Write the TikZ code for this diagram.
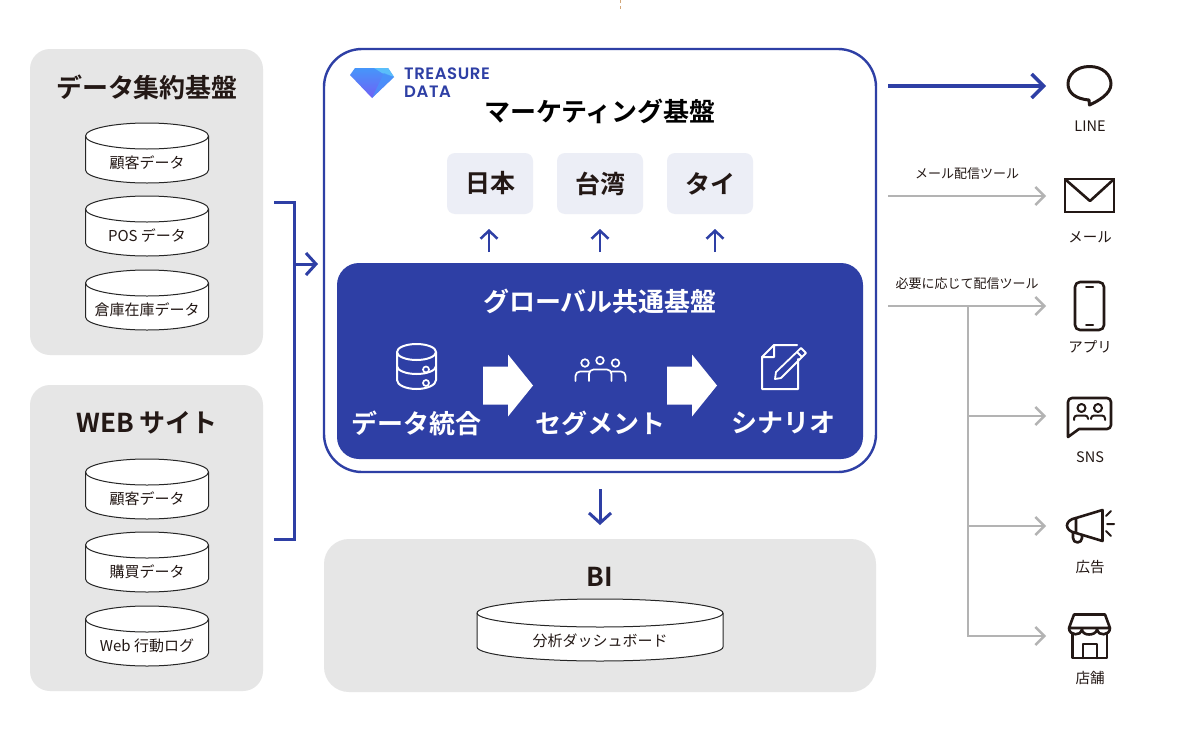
\documentclass[tikz,border=0pt]{standalone}
\usepackage{fontspec}
\setmainfont{Noto Sans CJK JP}[BoldFont={Noto Sans CJK JP Bold}]
\newfontfamily\logofont{Poppins SemiBold}[LetterSpace=3.5]
\usetikzlibrary{arrows.meta}
\definecolor{tdblue}{RGB}{46,63,165}
\definecolor{panelgray}{RGB}{230,230,230}
\definecolor{linegray}{RGB}{179,179,179}
\definecolor{countrybg}{RGB}{236,238,246}
\definecolor{inkblack}{RGB}{35,24,21}
\definecolor{gemtop}{RGB}{70,150,250}
\definecolor{gembot}{RGB}{112,96,245}
\definecolor{gemlight}{RGB}{90,190,250}
\tikzset{
	panel/.style={fill=panelgray,rounded corners=20pt,inner sep=0pt},
	title/.style={font=\fontsize{26}{26}\selectfont\bfseries,text=inkblack},
	maintitle/.style={font=\fontsize{26}{26}\selectfont\bfseries,text=black},
	whitetitle/.style={font=\fontsize{26}{26}\selectfont\bfseries,text=white},
	dbtext/.style={font=\fontsize{15}{15}\selectfont,text=inkblack},
	smalltext/.style={font=\fontsize{13}{13}\selectfont,text=inkblack},
	icontext/.style={font=\fontsize{14.5}{14.5}\selectfont,text=inkblack},
	logotext/.style={anchor=west,inner sep=0pt,text=tdblue,font=\logofont\fontsize{16.5}{16.5}\selectfont},
	countrybox/.style={fill=countrybg,rounded corners=8pt,minimum width=86pt,minimum height=61pt,inner sep=0pt,font=\fontsize{25}{25}\selectfont\bfseries,text=inkblack},
	bluearrow/.style={draw=tdblue,line width=3pt,-{Straight Barb[length=10pt,width=22pt,line width=3pt]}},
	uparrow/.style={draw=tdblue,line width=2.5pt,-{Straight Barb[length=8pt,width=17pt,line width=2.5pt]}},
	grayarrow/.style={draw=linegray,line width=2.2pt,-{Straight Barb[length=9pt,width=18pt,line width=2.4pt]}},
	dbline/.style={draw=black!85,line width=1pt},
	icon/.style={draw=inkblack,line width=2.6pt,line join=round,line cap=round},
	whiteicon/.style={draw=white,line width=2pt,line join=round,line cap=round},
	bigarrow/.pic={\fill[white] (0,-19)--(25,-19)--(25,-31)--(50,0)--(25,31)--(25,19)--(0,19)--cycle;},
}
\begin{document}
\begin{tikzpicture}[x=1pt,y=-1pt]
	\useasboundingbox (0,0) rectangle (1200,747);
	\fill[white] (0,0) rectangle (1200,747);
	\draw[orange!50!gray!70,line width=.8pt,dash pattern=on 3pt off 3pt] (620,0)--(620,11);

	% left panels
	\node[panel,minimum width=233pt,minimum height=306pt] (source) at (146.5,202) {};
	\node[panel,minimum width=233pt,minimum height=306pt] (web) at (146.5,538) {};
	\node[title] (sourcetitle) at (147,87) {データ集約基盤};
	\node[title] (webtitle) at (147,422.5) {WEB サイト};
	\foreach \cy/\name/\txt in {
		136/a/顧客データ,209/b/POS データ,283/c/倉庫在庫データ,
		472/d/顧客データ,545/e/購買データ,619/f/Web 行動ログ}{
		\filldraw[fill=white,dbline] (85.5,\cy)--++(0,34)
			arc[start angle=180,end angle=0,x radius=61.5,y radius=13]--++(0,-34)
			arc[start angle=0,end angle=-180,x radius=61.5,y radius=13]--cycle;
		\draw[dbline] (85.5,\cy) arc[start angle=180,end angle=0,x radius=61.5,y radius=13];
		\node[dbtext] (db\name) at (147,\cy+26.5) {\txt};
	}

	% bracket
	\coordinate (bracketTop) at (274,202);
	\coordinate (bracketBot) at (274,539);
	\coordinate (bracketMid) at (294,264);
	\draw[tdblue,line width=3pt] (bracketTop)-|(294,539)--(bracketBot);

	% main box
	\node[draw=tdblue,line width=2.4pt,fill=white,rounded corners=38pt,minimum width=552pt,minimum height=423pt,inner sep=0pt] (main) at (600,260.5) {};
	\coordinate (mainIn) at (318,264);
	\draw[bluearrow] (bracketMid)--(mainIn);

	% logo
	\shade[top color=gemtop,bottom color=gembot] (355,68)--(388,68)--(394,77)--(372,98)--(350,75)--cycle;
	\fill[gemlight] (374,68)--(388,68)--(394,77)--(382,73)--cycle;
	\fill[gemtop,opacity=.7] (394,77)--(372,98)--(384,73)--cycle;
	\node[logotext] (logotop) at (404,73.5) {TREASURE};
	\node[logotext] (logobot) at (404,92) {DATA};
	\node[maintitle] (mainlabel) at (600,111) {マーケティング基盤};

	% countries
	\node[countrybox] (japan) at (490,183.5) {日本};
	\node[countrybox] (taiwan) at (600,183.5) {台湾};
	\node[countrybox] (thai) at (710,183.5) {タイ};

	% common base
	\node[fill=tdblue,rounded corners=22pt,minimum width=526pt,minimum height=196pt,inner sep=0pt] (base) at (600,361) {};
	\node[whitetitle] (basetitle) at (600,301) {グローバル共通基盤};
	\draw[uparrow] (489,252)--(489,229);
	\draw[uparrow] (600,252)--(600,229);
	\draw[uparrow] (715,252)--(715,229);
	\node[whitetitle] (merge) at (416,423) {データ統合};
	\node[whitetitle] (segment) at (600,423) {セグメント};
	\node[whitetitle] (scenario) at (783,423) {シナリオ};
	\pic at (483,385.5) {bigarrow};
	\pic at (667,385.5) {bigarrow};

	% database icon
	\draw[whiteicon] (397,352) arc[start angle=180,end angle=-180,x radius=19.5,y radius=8]
		(397,352)--(397,380) arc[start angle=180,end angle=0,x radius=19.5,y radius=9]--(436,352)
		(397,352) arc[start angle=180,end angle=0,x radius=19.5,y radius=8]
		(397,366) arc[start angle=180,end angle=0,x radius=19.5,y radius=8];
	\draw[whiteicon,line width=1.7pt] (426,369.5) circle[radius=3] (426,383) circle[radius=3];
	% people icon
	\draw[whiteicon,line width=1.7pt] (585,363) circle[radius=3.8] (600,360.5) circle[radius=3.8] (615.5,363) circle[radius=3.8];
	\draw[whiteicon,line width=1.7pt] (575.5,381)--(575.5,376) arc[start angle=180,end angle=270,radius=4.5]--(589,371.5)
		(589,381)--(589,374) arc[start angle=180,end angle=270,radius=4.5]--(607,369.5) arc[start angle=270,end angle=360,radius=4.5]--(611.5,381)
		(612,371.5)--(621,371.5) arc[start angle=270,end angle=360,radius=4.5]--(625.5,381);
	% document icon
	\draw[whiteicon] (798,359)--(798,389)--(762,389)--(762,357)--(774,345)--(797,345)
		(762,357)--(774,357)--(774,345);
	\draw[whiteicon,line width=1.8pt] (776,372)--(801,348)--(806,353)--(781,378)--(775,379)--cycle (797,352)--(802,357);

	% bi
	\node[panel,rounded corners=25pt,minimum width=552pt,minimum height=153pt] (bi) at (600,615.5) {};
	\node[title] (bititle) at (600,577) {BI};
	\filldraw[fill=white,dbline] (477,613)--++(0,34)
		arc[start angle=180,end angle=0,x radius=123,y radius=14]--++(0,-34)
		arc[start angle=0,end angle=-180,x radius=123,y radius=14]--cycle;
	\draw[dbline] (477,613) arc[start angle=180,end angle=0,x radius=123,y radius=14];
	\node[dbtext] (dashboard) at (600,641) {分析ダッシュボード};
	\draw[bluearrow] (600,489)--(600,525);

	% output
	\coordinate (outLine) at (888,86);
	\coordinate (inLine) at (1046,86);
	\coordinate (outMail) at (888,196);
	\coordinate (inMail) at (1046,196);
	\coordinate (outApp) at (888,306);
	\coordinate (inApp) at (1046,306);
	\coordinate (branch) at (968,306);
	\coordinate (inSns) at (1046,416);
	\coordinate (inAd) at (1046,526);
	\coordinate (inShop) at (1046,636);
	\draw[tdblue,line width=3.2pt,-{Straight Barb[length=12pt,width=24pt,line width=3.4pt]}] (outLine)--(inLine);
	\draw[grayarrow] (outMail)--(inMail);
	\draw[grayarrow] (outApp)--(inApp);
	\draw[grayarrow] (branch)|-(inSns);
	\draw[grayarrow] (branch)|-(inAd);
	\draw[grayarrow] (branch)|-(inShop);
	\node[smalltext] (mailtool) at (967,174) {メール配信ツール};
	\node[smalltext] (apptool) at (967,284) {必要に応じて配信ツール};

	% icons on the right
	\draw[icon,line width=3pt] (1089.5,66.5) .. controls (1076,66.5) and (1068,75) .. (1068,84)
		.. controls (1068,93) and (1076,99) .. (1089,100) -- (1089.5,105)
		.. controls (1098,101) and (1111,94) .. (1111,84)
		.. controls (1111,75) and (1103,66.5) .. (1089.5,66.5) -- cycle;
	\draw[icon,line cap=butt,line join=miter] (1065,179) rectangle (1114,212);
	\draw[icon] (1066,180)--(1090,201)--(1113,180);
	\draw[icon] (1075,287) arc[start angle=180,end angle=270,radius=5]--(1099,282) arc[start angle=270,end angle=360,radius=5]
		--(1104,325) arc[start angle=0,end angle=90,radius=5]--(1080,330) arc[start angle=90,end angle=180,radius=5]--cycle;
	\draw[icon,line width=2pt] (1086,287)--(1093,287) (1086,325)--(1093,325);
	\draw[icon] (1068,402) arc[start angle=180,end angle=270,radius=4]--(1107,398) arc[start angle=270,end angle=360,radius=4]
		--(1111,425) arc[start angle=0,end angle=90,radius=4]--(1079,429)--(1068,437)--cycle;
	\draw[icon,line width=2pt] (1081.5,408) circle[radius=4] (1098,408) circle[radius=4]
		(1074,420)--(1074,418.5) arc[start angle=180,end angle=270,radius=3]--(1085,415.5) arc[start angle=270,end angle=360,radius=3]--(1088,419)
		(1091,419)--(1091,418.5) arc[start angle=180,end angle=270,radius=3]--(1102,415.5) arc[start angle=270,end angle=360,radius=3]--(1105,420);
	\draw[icon] (1102.5,510)--(1102.5,541)--(1076,533) .. controls (1064,531) and (1064,520) .. (1076,518)--cycle;
	\draw[icon] (1076,518)--(1076,533) (1073,532)--(1073,538) arc[start angle=180,end angle=0,radius=4.5]--(1082,535);
	\draw[icon,line width=2pt] (1106,516)--(1111,511) (1107,524)--(1114,524) (1106,531)--(1111,536);
	\draw[icon] (1074,614.5)--(1105,614.5)--(1110,628) (1074,614.5)--(1069,628)--(1110,628)
		(1069,628) .. controls (1069,636) and (1081,636) .. (1082,630) .. controls (1083,636) and (1095,636) .. (1097,630) .. controls (1098,636) and (1110,636) .. (1110,628);
	\draw[icon] (1072.5,634)--(1072.5,658)--(1107,658)--(1107,634) (1083,658)--(1083,644)--(1097,644)--(1097,658);
	\node[icontext] (linelabel) at (1090,126.5) {LINE};
	\node[icontext] (maillabel) at (1090,237) {メール};
	\node[icontext] (applabel) at (1090,346.5) {アプリ};
	\node[icontext] (snslabel) at (1090,457.5) {SNS};
	\node[icontext] (adlabel) at (1090,567.5) {広告};
	\node[icontext] (shoplabel) at (1090,677.5) {店舗};
\end{tikzpicture}
\end{document}
